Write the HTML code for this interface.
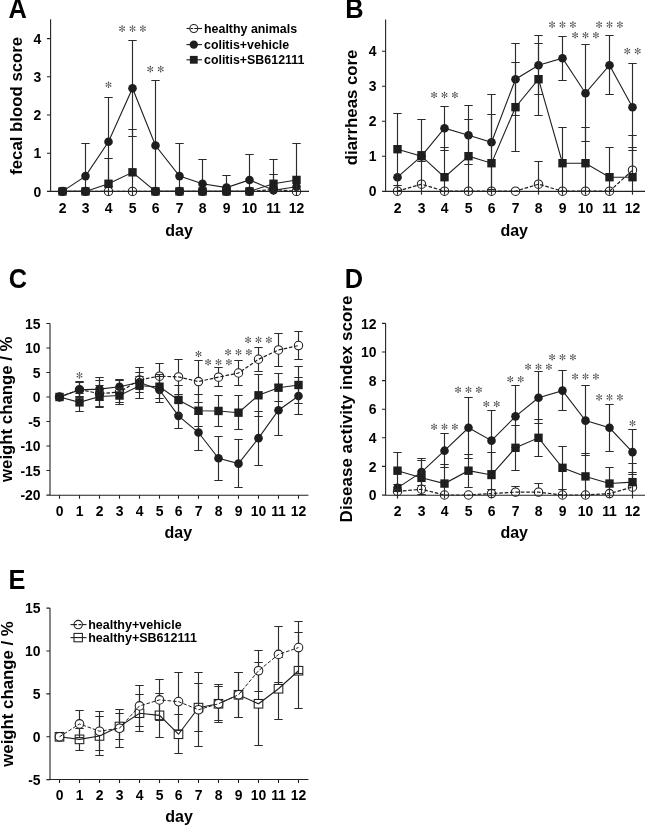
<!DOCTYPE html>
<html><head><meta charset="utf-8"><title>Figure</title>
<style>
html,body{margin:0;padding:0;background:#fff;}
body{width:645px;height:826px;overflow:hidden;}
svg{display:block;filter:blur(0.25px);}
text{font-family:"Liberation Sans", sans-serif;fill:#000;}
</style></head><body>
<svg width="645" height="826" viewBox="0 0 645 826">
<rect width="645" height="826" fill="#fff"/>
<text transform="translate(41.2 196.6) scale(0.93 1)" text-anchor="end" font-size="15" font-weight="bold">0</text>
<text transform="translate(41.2 158.4) scale(0.93 1)" text-anchor="end" font-size="15" font-weight="bold">1</text>
<text transform="translate(41.2 120.2) scale(0.93 1)" text-anchor="end" font-size="15" font-weight="bold">2</text>
<text transform="translate(41.2 82) scale(0.93 1)" text-anchor="end" font-size="15" font-weight="bold">3</text>
<text transform="translate(41.2 43.8) scale(0.93 1)" text-anchor="end" font-size="15" font-weight="bold">4</text>
<text transform="translate(62.5 212.7) scale(0.93 1)" text-anchor="middle" font-size="15" font-weight="bold">2</text>
<text transform="translate(85.5 212.7) scale(0.93 1)" text-anchor="middle" font-size="15" font-weight="bold">3</text>
<text transform="translate(108.5 212.7) scale(0.93 1)" text-anchor="middle" font-size="15" font-weight="bold">4</text>
<text transform="translate(132.5 212.7) scale(0.93 1)" text-anchor="middle" font-size="15" font-weight="bold">5</text>
<text transform="translate(155.5 212.7) scale(0.93 1)" text-anchor="middle" font-size="15" font-weight="bold">6</text>
<text transform="translate(179.5 212.7) scale(0.93 1)" text-anchor="middle" font-size="15" font-weight="bold">7</text>
<text transform="translate(202.5 212.7) scale(0.93 1)" text-anchor="middle" font-size="15" font-weight="bold">8</text>
<text transform="translate(226.5 212.7) scale(0.93 1)" text-anchor="middle" font-size="15" font-weight="bold">9</text>
<text transform="translate(249.5 212.7) scale(0.93 1)" text-anchor="middle" font-size="15" font-weight="bold">10</text>
<text transform="translate(273.5 212.7) scale(0.93 1)" text-anchor="middle" font-size="15" font-weight="bold">11</text>
<text transform="translate(296.5 212.7) scale(0.93 1)" text-anchor="middle" font-size="15" font-weight="bold">12</text>
<text x="179" y="235.5" text-anchor="middle" font-size="16" font-weight="bold">day</text>
<text transform="translate(21.8 105.8) rotate(-90)" text-anchor="middle" font-size="16.8" font-weight="bold">fecal blood score</text>
<text transform="translate(8.6 18.2) scale(0.94 1)" font-size="27" font-weight="bold">A</text>
<circle cx="62.5" cy="191.4" r="4.2" fill="#fff" stroke="#1e1e1e" stroke-width="1.05"/><circle cx="85.5" cy="191.4" r="4.2" fill="#fff" stroke="#1e1e1e" stroke-width="1.05"/><circle cx="108.5" cy="191.4" r="4.2" fill="#fff" stroke="#1e1e1e" stroke-width="1.05"/><circle cx="132.5" cy="191.4" r="4.2" fill="#fff" stroke="#1e1e1e" stroke-width="1.05"/><circle cx="155.5" cy="191.4" r="4.2" fill="#fff" stroke="#1e1e1e" stroke-width="1.05"/><circle cx="179.5" cy="191.4" r="4.2" fill="#fff" stroke="#1e1e1e" stroke-width="1.05"/><circle cx="202.5" cy="191.4" r="4.2" fill="#fff" stroke="#1e1e1e" stroke-width="1.05"/><circle cx="226.5" cy="191.4" r="4.2" fill="#fff" stroke="#1e1e1e" stroke-width="1.05"/><circle cx="249.5" cy="191.4" r="4.2" fill="#fff" stroke="#1e1e1e" stroke-width="1.05"/><circle cx="273.5" cy="189.49" r="4.2" fill="#fff" stroke="#1e1e1e" stroke-width="1.05"/><circle cx="296.5" cy="191.4" r="4.2" fill="#fff" stroke="#1e1e1e" stroke-width="1.05"/>
<polyline points="62.5,191.4 85.5,191.4 108.5,191.4 132.5,191.4 155.5,191.4 179.5,191.4 202.5,191.4 226.5,191.4 249.5,191.4 273.5,189.49 296.5,191.4" fill="none" stroke="#1e1e1e" stroke-width="1.2" stroke-dasharray="3.6 1.8"/>
<path d="M85.5 143.5V195M81.3 143.5H89.7M108.5 97.5V186.5M104.3 97.5H112.7M104.3 186.5H112.7M132.5 40.5V136.5M128.3 40.5H136.7M128.3 136.5H136.7M155.5 80.5V195M151.3 80.5H159.7M179.5 143.5V195M175.3 143.5H183.7M202.5 159.5V195M198.3 159.5H206.7M226.5 175.5V195M222.3 175.5H230.7M249.5 154.5V195M245.3 154.5H253.7M273.5 174.5V195M269.3 174.5H277.7" stroke="#2c2c2c" stroke-width="1.15" fill="none"/>
<polyline points="62.5,191.4 85.5,176.12 108.5,141.74 132.5,88.26 155.5,145.56 179.5,176.12 202.5,183.76 226.5,187.58 249.5,179.94 273.5,190.25 296.5,186.82" fill="none" stroke="#1e1e1e" stroke-width="1.1"/>
<circle cx="62.5" cy="191.4" r="4.3" fill="#1e1e1e"/><circle cx="85.5" cy="176.12" r="4.3" fill="#1e1e1e"/><circle cx="108.5" cy="141.74" r="4.3" fill="#1e1e1e"/><circle cx="132.5" cy="88.26" r="4.3" fill="#1e1e1e"/><circle cx="155.5" cy="145.56" r="4.3" fill="#1e1e1e"/><circle cx="179.5" cy="176.12" r="4.3" fill="#1e1e1e"/><circle cx="202.5" cy="183.76" r="4.3" fill="#1e1e1e"/><circle cx="226.5" cy="187.58" r="4.3" fill="#1e1e1e"/><circle cx="249.5" cy="179.94" r="4.3" fill="#1e1e1e"/><circle cx="273.5" cy="190.25" r="4.3" fill="#1e1e1e"/><circle cx="296.5" cy="186.82" r="4.3" fill="#1e1e1e"/>
<path d="M108.5 158.5V195M104.3 158.5H112.7M132.5 129.5V195M128.3 129.5H136.7M273.5 159.5V195M269.3 159.5H277.7M296.5 143.5V195M292.3 143.5H300.7" stroke="#2c2c2c" stroke-width="1.15" fill="none"/>
<polyline points="62.5,191.4 85.5,191.4 108.5,183.76 132.5,172.3 155.5,191.4 179.5,191.4 202.5,191.4 226.5,191.4 249.5,191.4 273.5,183.76 296.5,179.94" fill="none" stroke="#1e1e1e" stroke-width="1.1"/>
<rect x="58.3" y="187.2" width="8.4" height="8.4" fill="#1e1e1e"/><rect x="81.3" y="187.2" width="8.4" height="8.4" fill="#1e1e1e"/><rect x="104.3" y="179.56" width="8.4" height="8.4" fill="#1e1e1e"/><rect x="128.3" y="168.1" width="8.4" height="8.4" fill="#1e1e1e"/><rect x="151.3" y="187.2" width="8.4" height="8.4" fill="#1e1e1e"/><rect x="175.3" y="187.2" width="8.4" height="8.4" fill="#1e1e1e"/><rect x="198.3" y="187.2" width="8.4" height="8.4" fill="#1e1e1e"/><rect x="222.3" y="187.2" width="8.4" height="8.4" fill="#1e1e1e"/><rect x="245.3" y="187.2" width="8.4" height="8.4" fill="#1e1e1e"/><rect x="269.3" y="179.56" width="8.4" height="8.4" fill="#1e1e1e"/><rect x="292.3" y="175.74" width="8.4" height="8.4" fill="#1e1e1e"/>
<path d="M50.6 19.2V191.2" stroke="#222" stroke-width="1.1" fill="none"/>
<path d="M47 191.4H50.6M47 153.2H50.6M47 115H50.6M47 76.8H50.6M47 38.6H50.6M47 191.4H309" stroke="#222" stroke-width="1.1" fill="none"/>
<path d="M108.5 82.15L108.5 87.25M106.29 85.98L110.71 83.42M110.71 85.98L106.29 83.42" stroke="#7a7a7a" stroke-width="0.9" fill="none"/><circle cx="108.5" cy="82.15" r="0.75" fill="#444"/><circle cx="108.5" cy="87.25" r="0.75" fill="#444"/><circle cx="106.29" cy="85.98" r="0.75" fill="#444"/><circle cx="110.71" cy="83.42" r="0.75" fill="#444"/><circle cx="110.71" cy="85.98" r="0.75" fill="#444"/><circle cx="106.29" cy="83.42" r="0.75" fill="#444"/>
<path d="M122.1 26.05L122.1 31.15M119.89 29.88L124.31 27.33M124.31 29.88L119.89 27.32" stroke="#7a7a7a" stroke-width="0.9" fill="none"/><circle cx="122.1" cy="26.05" r="0.75" fill="#444"/><circle cx="122.1" cy="31.15" r="0.75" fill="#444"/><circle cx="119.89" cy="29.88" r="0.75" fill="#444"/><circle cx="124.31" cy="27.33" r="0.75" fill="#444"/><circle cx="124.31" cy="29.88" r="0.75" fill="#444"/><circle cx="119.89" cy="27.32" r="0.75" fill="#444"/><path d="M132.5 26.05L132.5 31.15M130.29 29.88L134.71 27.33M134.71 29.88L130.29 27.32" stroke="#7a7a7a" stroke-width="0.9" fill="none"/><circle cx="132.5" cy="26.05" r="0.75" fill="#444"/><circle cx="132.5" cy="31.15" r="0.75" fill="#444"/><circle cx="130.29" cy="29.88" r="0.75" fill="#444"/><circle cx="134.71" cy="27.33" r="0.75" fill="#444"/><circle cx="134.71" cy="29.88" r="0.75" fill="#444"/><circle cx="130.29" cy="27.32" r="0.75" fill="#444"/><path d="M142.9 26.05L142.9 31.15M140.69 29.88L145.11 27.33M145.11 29.88L140.69 27.32" stroke="#7a7a7a" stroke-width="0.9" fill="none"/><circle cx="142.9" cy="26.05" r="0.75" fill="#444"/><circle cx="142.9" cy="31.15" r="0.75" fill="#444"/><circle cx="140.69" cy="29.88" r="0.75" fill="#444"/><circle cx="145.11" cy="27.33" r="0.75" fill="#444"/><circle cx="145.11" cy="29.88" r="0.75" fill="#444"/><circle cx="140.69" cy="27.32" r="0.75" fill="#444"/>
<path d="M150.3 66.55L150.3 71.65M148.09 70.38L152.51 67.82M152.51 70.38L148.09 67.82" stroke="#7a7a7a" stroke-width="0.9" fill="none"/><circle cx="150.3" cy="66.55" r="0.75" fill="#444"/><circle cx="150.3" cy="71.65" r="0.75" fill="#444"/><circle cx="148.09" cy="70.38" r="0.75" fill="#444"/><circle cx="152.51" cy="67.82" r="0.75" fill="#444"/><circle cx="152.51" cy="70.38" r="0.75" fill="#444"/><circle cx="148.09" cy="67.82" r="0.75" fill="#444"/><path d="M160.7 66.55L160.7 71.65M158.49 70.38L162.91 67.82M162.91 70.38L158.49 67.82" stroke="#7a7a7a" stroke-width="0.9" fill="none"/><circle cx="160.7" cy="66.55" r="0.75" fill="#444"/><circle cx="160.7" cy="71.65" r="0.75" fill="#444"/><circle cx="158.49" cy="70.38" r="0.75" fill="#444"/><circle cx="162.91" cy="67.82" r="0.75" fill="#444"/><circle cx="162.91" cy="70.38" r="0.75" fill="#444"/><circle cx="158.49" cy="67.82" r="0.75" fill="#444"/>
<path d="M186.5 28.5H202" stroke="#1e1e1e" stroke-width="1.1"/>
<circle cx="193.8" cy="28.5" r="3.95" fill="#fff" stroke="#1e1e1e" stroke-width="1.05"/><path d="M190.6 28.5H197" stroke="#1e1e1e" stroke-width="1.0" stroke-dasharray="2.6 1.2"/>
<text transform="translate(204 33.1) scale(0.955 1)" font-size="13" font-weight="bold">healthy animals</text>
<path d="M186.5 44.6H202" stroke="#1e1e1e" stroke-width="1.1"/>
<circle cx="193.8" cy="44.6" r="4.2" fill="#1e1e1e"/>
<text transform="translate(204 49.2) scale(0.955 1)" font-size="13" font-weight="bold">colitis+vehicle</text>
<path d="M186.5 59.8H202" stroke="#1e1e1e" stroke-width="1.1"/>
<rect x="189.9" y="55.9" width="7.8" height="7.8" fill="#1e1e1e"/>
<text transform="translate(204 64.39999999999999) scale(0.955 1)" font-size="13" font-weight="bold">colitis+SB612111</text>
<text transform="translate(376.6 196.4) scale(0.93 1)" text-anchor="end" font-size="15" font-weight="bold">0</text>
<text transform="translate(376.6 161.4) scale(0.93 1)" text-anchor="end" font-size="15" font-weight="bold">1</text>
<text transform="translate(376.6 126.4) scale(0.93 1)" text-anchor="end" font-size="15" font-weight="bold">2</text>
<text transform="translate(376.6 91.4) scale(0.93 1)" text-anchor="end" font-size="15" font-weight="bold">3</text>
<text transform="translate(376.6 56.4) scale(0.93 1)" text-anchor="end" font-size="15" font-weight="bold">4</text>
<text transform="translate(397.5 212.7) scale(0.93 1)" text-anchor="middle" font-size="15" font-weight="bold">2</text>
<text transform="translate(421.5 212.7) scale(0.93 1)" text-anchor="middle" font-size="15" font-weight="bold">3</text>
<text transform="translate(444.5 212.7) scale(0.93 1)" text-anchor="middle" font-size="15" font-weight="bold">4</text>
<text transform="translate(468.5 212.7) scale(0.93 1)" text-anchor="middle" font-size="15" font-weight="bold">5</text>
<text transform="translate(491.5 212.7) scale(0.93 1)" text-anchor="middle" font-size="15" font-weight="bold">6</text>
<text transform="translate(515.5 212.7) scale(0.93 1)" text-anchor="middle" font-size="15" font-weight="bold">7</text>
<text transform="translate(538.5 212.7) scale(0.93 1)" text-anchor="middle" font-size="15" font-weight="bold">8</text>
<text transform="translate(562.5 212.7) scale(0.93 1)" text-anchor="middle" font-size="15" font-weight="bold">9</text>
<text transform="translate(585.5 212.7) scale(0.93 1)" text-anchor="middle" font-size="15" font-weight="bold">10</text>
<text transform="translate(609.5 212.7) scale(0.93 1)" text-anchor="middle" font-size="15" font-weight="bold">11</text>
<text transform="translate(632.5 212.7) scale(0.93 1)" text-anchor="middle" font-size="15" font-weight="bold">12</text>
<text x="514.2" y="235.5" text-anchor="middle" font-size="16" font-weight="bold">day</text>
<text transform="translate(357.1 107.4) rotate(-90)" text-anchor="middle" font-size="16.8" font-weight="bold">diarrheas core</text>
<text transform="translate(345.3 17.5) scale(0.94 1)" font-size="27" font-weight="bold">B</text>
<path d="M538.5 161.5V184.2M534.3 161.5H542.7M632.5 135.5V170.2M628.3 135.5H636.7" stroke="#2c2c2c" stroke-width="1.15" fill="none"/>
<circle cx="397.5" cy="191.2" r="4.2" fill="#fff" stroke="#1e1e1e" stroke-width="1.05"/><circle cx="421.5" cy="184.2" r="4.2" fill="#fff" stroke="#1e1e1e" stroke-width="1.05"/><circle cx="444.5" cy="191.2" r="4.2" fill="#fff" stroke="#1e1e1e" stroke-width="1.05"/><circle cx="468.5" cy="191.2" r="4.2" fill="#fff" stroke="#1e1e1e" stroke-width="1.05"/><circle cx="491.5" cy="191.2" r="4.2" fill="#fff" stroke="#1e1e1e" stroke-width="1.05"/><circle cx="515.5" cy="191.2" r="4.2" fill="#fff" stroke="#1e1e1e" stroke-width="1.05"/><circle cx="538.5" cy="184.2" r="4.2" fill="#fff" stroke="#1e1e1e" stroke-width="1.05"/><circle cx="562.5" cy="191.2" r="4.2" fill="#fff" stroke="#1e1e1e" stroke-width="1.05"/><circle cx="585.5" cy="191.2" r="4.2" fill="#fff" stroke="#1e1e1e" stroke-width="1.05"/><circle cx="609.5" cy="191.2" r="4.2" fill="#fff" stroke="#1e1e1e" stroke-width="1.05"/><circle cx="632.5" cy="170.2" r="4.2" fill="#fff" stroke="#1e1e1e" stroke-width="1.05"/>
<polyline points="397.5,191.2 421.5,184.2 444.5,191.2 468.5,191.2 491.5,191.2 515.5,191.2 538.5,184.2 562.5,191.2 585.5,191.2 609.5,191.2 632.5,170.2" fill="none" stroke="#1e1e1e" stroke-width="1.2" stroke-dasharray="3.6 1.8"/>
<path d="M421.5 151.5V161.5M417.3 151.5H425.7M417.3 161.5H425.7M444.5 106.5V150.5M440.3 106.5H448.7M440.3 150.5H448.7M468.5 105.5V164.5M464.3 105.5H472.7M464.3 164.5H472.7M491.5 94.5V189.5M487.3 94.5H495.7M487.3 189.5H495.7M515.5 43.5V115.5M511.3 43.5H519.7M511.3 115.5H519.7M538.5 35.5V94.5M534.3 35.5H542.7M534.3 94.5H542.7M562.5 36.5V80.5M558.3 36.5H566.7M558.3 80.5H566.7M585.5 44.5V141.5M581.3 44.5H589.7M581.3 141.5H589.7M609.5 35.5V94.5M605.3 35.5H613.7M605.3 94.5H613.7M632.5 63.5V150.5M628.3 63.5H636.7M628.3 150.5H636.7" stroke="#2c2c2c" stroke-width="1.15" fill="none"/>
<polyline points="397.5,177.2 421.5,156.2 444.5,128.2 468.5,135.2 491.5,142.2 515.5,79.2 538.5,65.2 562.5,58.2 585.5,93.2 609.5,65.2 632.5,107.2" fill="none" stroke="#1e1e1e" stroke-width="1.1"/>
<circle cx="397.5" cy="177.2" r="4.3" fill="#1e1e1e"/><circle cx="421.5" cy="156.2" r="4.3" fill="#1e1e1e"/><circle cx="444.5" cy="128.2" r="4.3" fill="#1e1e1e"/><circle cx="468.5" cy="135.2" r="4.3" fill="#1e1e1e"/><circle cx="491.5" cy="142.2" r="4.3" fill="#1e1e1e"/><circle cx="515.5" cy="79.2" r="4.3" fill="#1e1e1e"/><circle cx="538.5" cy="65.2" r="4.3" fill="#1e1e1e"/><circle cx="562.5" cy="58.2" r="4.3" fill="#1e1e1e"/><circle cx="585.5" cy="93.2" r="4.3" fill="#1e1e1e"/><circle cx="609.5" cy="65.2" r="4.3" fill="#1e1e1e"/><circle cx="632.5" cy="107.2" r="4.3" fill="#1e1e1e"/>
<path d="M397.5 113.5V185.5M393.3 113.5H401.7M393.3 185.5H401.7M421.5 119.5V194.8M417.3 119.5H425.7M444.5 147.5V194.8M440.3 147.5H448.7M468.5 119.5V194.8M464.3 119.5H472.7M491.5 114.5V194.8M487.3 114.5H495.7M515.5 62.5V151.5M511.3 62.5H519.7M511.3 151.5H519.7M538.5 43.5V115.5M534.3 43.5H542.7M534.3 115.5H542.7M562.5 127.5V194.8M558.3 127.5H566.7M585.5 127.5V194.8M581.3 127.5H589.7M609.5 147.5V194.8M605.3 147.5H613.7M632.5 147.5V194.8M628.3 147.5H636.7" stroke="#2c2c2c" stroke-width="1.15" fill="none"/>
<polyline points="397.5,149.2 421.5,156.2 444.5,177.2 468.5,156.2 491.5,163.2 515.5,107.2 538.5,79.2 562.5,163.2 585.5,163.2 609.5,177.2 632.5,177.2" fill="none" stroke="#1e1e1e" stroke-width="1.1"/>
<rect x="393.3" y="145" width="8.4" height="8.4" fill="#1e1e1e"/><rect x="417.3" y="152" width="8.4" height="8.4" fill="#1e1e1e"/><rect x="440.3" y="173" width="8.4" height="8.4" fill="#1e1e1e"/><rect x="464.3" y="152" width="8.4" height="8.4" fill="#1e1e1e"/><rect x="487.3" y="159" width="8.4" height="8.4" fill="#1e1e1e"/><rect x="511.3" y="103" width="8.4" height="8.4" fill="#1e1e1e"/><rect x="534.3" y="75" width="8.4" height="8.4" fill="#1e1e1e"/><rect x="558.3" y="159" width="8.4" height="8.4" fill="#1e1e1e"/><rect x="581.3" y="159" width="8.4" height="8.4" fill="#1e1e1e"/><rect x="605.3" y="173" width="8.4" height="8.4" fill="#1e1e1e"/><rect x="628.3" y="173" width="8.4" height="8.4" fill="#1e1e1e"/>
<path d="M397.5 184.2V194.7" stroke="#2c2c2c" stroke-width="1.15"/>
<path d="M538.5 180.7V194.7" stroke="#2c2c2c" stroke-width="1.15"/>
<path d="M385.6 19.4V191.2" stroke="#222" stroke-width="1.1" fill="none"/>
<path d="M382 191.2H385.6M382 156.2H385.6M382 121.2H385.6M382 86.2H385.6M382 51.2H385.6M382.4 191.4H645" stroke="#222" stroke-width="1.1" fill="none"/>
<path d="M434.1 92.45L434.1 97.55M431.89 96.28L436.31 93.72M436.31 96.28L431.89 93.72" stroke="#7a7a7a" stroke-width="0.9" fill="none"/><circle cx="434.1" cy="92.45" r="0.75" fill="#444"/><circle cx="434.1" cy="97.55" r="0.75" fill="#444"/><circle cx="431.89" cy="96.28" r="0.75" fill="#444"/><circle cx="436.31" cy="93.72" r="0.75" fill="#444"/><circle cx="436.31" cy="96.28" r="0.75" fill="#444"/><circle cx="431.89" cy="93.72" r="0.75" fill="#444"/><path d="M444.5 92.45L444.5 97.55M442.29 96.28L446.71 93.72M446.71 96.28L442.29 93.72" stroke="#7a7a7a" stroke-width="0.9" fill="none"/><circle cx="444.5" cy="92.45" r="0.75" fill="#444"/><circle cx="444.5" cy="97.55" r="0.75" fill="#444"/><circle cx="442.29" cy="96.28" r="0.75" fill="#444"/><circle cx="446.71" cy="93.72" r="0.75" fill="#444"/><circle cx="446.71" cy="96.28" r="0.75" fill="#444"/><circle cx="442.29" cy="93.72" r="0.75" fill="#444"/><path d="M454.9 92.45L454.9 97.55M452.69 96.28L457.11 93.72M457.11 96.28L452.69 93.72" stroke="#7a7a7a" stroke-width="0.9" fill="none"/><circle cx="454.9" cy="92.45" r="0.75" fill="#444"/><circle cx="454.9" cy="97.55" r="0.75" fill="#444"/><circle cx="452.69" cy="96.28" r="0.75" fill="#444"/><circle cx="457.11" cy="93.72" r="0.75" fill="#444"/><circle cx="457.11" cy="96.28" r="0.75" fill="#444"/><circle cx="452.69" cy="93.72" r="0.75" fill="#444"/>
<path d="M552.1 22.05L552.1 27.15M549.89 25.88L554.31 23.33M554.31 25.88L549.89 23.32" stroke="#7a7a7a" stroke-width="0.9" fill="none"/><circle cx="552.1" cy="22.05" r="0.75" fill="#444"/><circle cx="552.1" cy="27.15" r="0.75" fill="#444"/><circle cx="549.89" cy="25.88" r="0.75" fill="#444"/><circle cx="554.31" cy="23.33" r="0.75" fill="#444"/><circle cx="554.31" cy="25.88" r="0.75" fill="#444"/><circle cx="549.89" cy="23.32" r="0.75" fill="#444"/><path d="M562.5 22.05L562.5 27.15M560.29 25.88L564.71 23.33M564.71 25.88L560.29 23.32" stroke="#7a7a7a" stroke-width="0.9" fill="none"/><circle cx="562.5" cy="22.05" r="0.75" fill="#444"/><circle cx="562.5" cy="27.15" r="0.75" fill="#444"/><circle cx="560.29" cy="25.88" r="0.75" fill="#444"/><circle cx="564.71" cy="23.33" r="0.75" fill="#444"/><circle cx="564.71" cy="25.88" r="0.75" fill="#444"/><circle cx="560.29" cy="23.32" r="0.75" fill="#444"/><path d="M572.9 22.05L572.9 27.15M570.69 25.88L575.11 23.33M575.11 25.88L570.69 23.32" stroke="#7a7a7a" stroke-width="0.9" fill="none"/><circle cx="572.9" cy="22.05" r="0.75" fill="#444"/><circle cx="572.9" cy="27.15" r="0.75" fill="#444"/><circle cx="570.69" cy="25.88" r="0.75" fill="#444"/><circle cx="575.11" cy="23.33" r="0.75" fill="#444"/><circle cx="575.11" cy="25.88" r="0.75" fill="#444"/><circle cx="570.69" cy="23.32" r="0.75" fill="#444"/>
<path d="M575.1 32.65L575.1 37.75M572.89 36.48L577.31 33.93M577.31 36.48L572.89 33.93" stroke="#7a7a7a" stroke-width="0.9" fill="none"/><circle cx="575.1" cy="32.65" r="0.75" fill="#444"/><circle cx="575.1" cy="37.75" r="0.75" fill="#444"/><circle cx="572.89" cy="36.48" r="0.75" fill="#444"/><circle cx="577.31" cy="33.93" r="0.75" fill="#444"/><circle cx="577.31" cy="36.48" r="0.75" fill="#444"/><circle cx="572.89" cy="33.93" r="0.75" fill="#444"/><path d="M585.5 32.65L585.5 37.75M583.29 36.48L587.71 33.93M587.71 36.48L583.29 33.93" stroke="#7a7a7a" stroke-width="0.9" fill="none"/><circle cx="585.5" cy="32.65" r="0.75" fill="#444"/><circle cx="585.5" cy="37.75" r="0.75" fill="#444"/><circle cx="583.29" cy="36.48" r="0.75" fill="#444"/><circle cx="587.71" cy="33.93" r="0.75" fill="#444"/><circle cx="587.71" cy="36.48" r="0.75" fill="#444"/><circle cx="583.29" cy="33.93" r="0.75" fill="#444"/><path d="M595.9 32.65L595.9 37.75M593.69 36.48L598.11 33.93M598.11 36.48L593.69 33.93" stroke="#7a7a7a" stroke-width="0.9" fill="none"/><circle cx="595.9" cy="32.65" r="0.75" fill="#444"/><circle cx="595.9" cy="37.75" r="0.75" fill="#444"/><circle cx="593.69" cy="36.48" r="0.75" fill="#444"/><circle cx="598.11" cy="33.93" r="0.75" fill="#444"/><circle cx="598.11" cy="36.48" r="0.75" fill="#444"/><circle cx="593.69" cy="33.93" r="0.75" fill="#444"/>
<path d="M599.1 22.05L599.1 27.15M596.89 25.88L601.31 23.33M601.31 25.88L596.89 23.32" stroke="#7a7a7a" stroke-width="0.9" fill="none"/><circle cx="599.1" cy="22.05" r="0.75" fill="#444"/><circle cx="599.1" cy="27.15" r="0.75" fill="#444"/><circle cx="596.89" cy="25.88" r="0.75" fill="#444"/><circle cx="601.31" cy="23.33" r="0.75" fill="#444"/><circle cx="601.31" cy="25.88" r="0.75" fill="#444"/><circle cx="596.89" cy="23.32" r="0.75" fill="#444"/><path d="M609.5 22.05L609.5 27.15M607.29 25.88L611.71 23.33M611.71 25.88L607.29 23.32" stroke="#7a7a7a" stroke-width="0.9" fill="none"/><circle cx="609.5" cy="22.05" r="0.75" fill="#444"/><circle cx="609.5" cy="27.15" r="0.75" fill="#444"/><circle cx="607.29" cy="25.88" r="0.75" fill="#444"/><circle cx="611.71" cy="23.33" r="0.75" fill="#444"/><circle cx="611.71" cy="25.88" r="0.75" fill="#444"/><circle cx="607.29" cy="23.32" r="0.75" fill="#444"/><path d="M619.9 22.05L619.9 27.15M617.69 25.88L622.11 23.33M622.11 25.88L617.69 23.32" stroke="#7a7a7a" stroke-width="0.9" fill="none"/><circle cx="619.9" cy="22.05" r="0.75" fill="#444"/><circle cx="619.9" cy="27.15" r="0.75" fill="#444"/><circle cx="617.69" cy="25.88" r="0.75" fill="#444"/><circle cx="622.11" cy="23.33" r="0.75" fill="#444"/><circle cx="622.11" cy="25.88" r="0.75" fill="#444"/><circle cx="617.69" cy="23.32" r="0.75" fill="#444"/>
<path d="M627.3 48.55L627.3 53.65M625.09 52.38L629.51 49.83M629.51 52.38L625.09 49.83" stroke="#7a7a7a" stroke-width="0.9" fill="none"/><circle cx="627.3" cy="48.55" r="0.75" fill="#444"/><circle cx="627.3" cy="53.65" r="0.75" fill="#444"/><circle cx="625.09" cy="52.38" r="0.75" fill="#444"/><circle cx="629.51" cy="49.83" r="0.75" fill="#444"/><circle cx="629.51" cy="52.38" r="0.75" fill="#444"/><circle cx="625.09" cy="49.83" r="0.75" fill="#444"/><path d="M637.7 48.55L637.7 53.65M635.49 52.38L639.91 49.83M639.91 52.38L635.49 49.83" stroke="#7a7a7a" stroke-width="0.9" fill="none"/><circle cx="637.7" cy="48.55" r="0.75" fill="#444"/><circle cx="637.7" cy="53.65" r="0.75" fill="#444"/><circle cx="635.49" cy="52.38" r="0.75" fill="#444"/><circle cx="639.91" cy="49.83" r="0.75" fill="#444"/><circle cx="639.91" cy="52.38" r="0.75" fill="#444"/><circle cx="635.49" cy="49.83" r="0.75" fill="#444"/>
<text transform="translate(40.6 328.7) scale(0.93 1)" text-anchor="end" font-size="15" font-weight="bold">15</text>
<text transform="translate(40.6 353.2) scale(0.93 1)" text-anchor="end" font-size="15" font-weight="bold">10</text>
<text transform="translate(40.6 377.7) scale(0.93 1)" text-anchor="end" font-size="15" font-weight="bold">5</text>
<text transform="translate(40.6 402.2) scale(0.93 1)" text-anchor="end" font-size="15" font-weight="bold">0</text>
<text transform="translate(40.6 426.7) scale(0.93 1)" text-anchor="end" font-size="15" font-weight="bold">-5</text>
<text transform="translate(40.6 451.2) scale(0.93 1)" text-anchor="end" font-size="15" font-weight="bold">-10</text>
<text transform="translate(40.6 475.7) scale(0.93 1)" text-anchor="end" font-size="15" font-weight="bold">-15</text>
<text transform="translate(40.6 500.2) scale(0.93 1)" text-anchor="end" font-size="15" font-weight="bold">-20</text>
<text transform="translate(59.5 515.5) scale(0.93 1)" text-anchor="middle" font-size="15" font-weight="bold">0</text>
<text transform="translate(79.5 515.5) scale(0.93 1)" text-anchor="middle" font-size="15" font-weight="bold">1</text>
<text transform="translate(99.5 515.5) scale(0.93 1)" text-anchor="middle" font-size="15" font-weight="bold">2</text>
<text transform="translate(119.5 515.5) scale(0.93 1)" text-anchor="middle" font-size="15" font-weight="bold">3</text>
<text transform="translate(139.5 515.5) scale(0.93 1)" text-anchor="middle" font-size="15" font-weight="bold">4</text>
<text transform="translate(159.5 515.5) scale(0.93 1)" text-anchor="middle" font-size="15" font-weight="bold">5</text>
<text transform="translate(178.5 515.5) scale(0.93 1)" text-anchor="middle" font-size="15" font-weight="bold">6</text>
<text transform="translate(198.5 515.5) scale(0.93 1)" text-anchor="middle" font-size="15" font-weight="bold">7</text>
<text transform="translate(218.5 515.5) scale(0.93 1)" text-anchor="middle" font-size="15" font-weight="bold">8</text>
<text transform="translate(238.5 515.5) scale(0.93 1)" text-anchor="middle" font-size="15" font-weight="bold">9</text>
<text transform="translate(258.5 515.5) scale(0.93 1)" text-anchor="middle" font-size="15" font-weight="bold">10</text>
<text transform="translate(278.5 515.5) scale(0.93 1)" text-anchor="middle" font-size="15" font-weight="bold">11</text>
<text transform="translate(298.5 515.5) scale(0.93 1)" text-anchor="middle" font-size="15" font-weight="bold">12</text>
<text x="178.3" y="537.5" text-anchor="middle" font-size="16" font-weight="bold">day</text>
<text transform="translate(12.3 409.2) rotate(-90)" text-anchor="middle" font-size="16.8" font-weight="bold">weight change / %</text>
<text transform="translate(8.8 287.5) scale(0.94 1)" font-size="27" font-weight="bold">C</text>
<path d="M79.5 382.5V396.5M75.3 382.5H83.7M75.3 396.5H83.7M99.5 380.5V406.5M95.3 380.5H103.7M95.3 406.5H103.7M119.5 379.5V404.5M115.3 379.5H123.7M115.3 404.5H123.7M139.5 367.5V392.5M135.3 367.5H143.7M135.3 392.5H143.7M159.5 363.5V388.5M155.3 363.5H163.7M155.3 388.5H163.7M178.5 359.5V394.5M174.3 359.5H182.7M174.3 394.5H182.7M198.5 360.5V402.5M194.3 360.5H202.7M194.3 402.5H202.7M218.5 367.5V386.5M214.3 367.5H222.7M214.3 386.5H222.7M238.5 360.5V385.5M234.3 360.5H242.7M234.3 385.5H242.7M258.5 347.5V371.5M254.3 347.5H262.7M254.3 371.5H262.7M278.5 333.5V366.5M274.3 333.5H282.7M274.3 366.5H282.7M298.5 331.5V359.5M294.3 331.5H302.7M294.3 359.5H302.7" stroke="#2c2c2c" stroke-width="1.15" fill="none"/>
<circle cx="59.5" cy="397" r="4.2" fill="#fff" stroke="#1e1e1e" stroke-width="1.05"/><circle cx="79.5" cy="389.65" r="4.2" fill="#fff" stroke="#1e1e1e" stroke-width="1.05"/><circle cx="99.5" cy="393.57" r="4.2" fill="#fff" stroke="#1e1e1e" stroke-width="1.05"/><circle cx="119.5" cy="392.1" r="4.2" fill="#fff" stroke="#1e1e1e" stroke-width="1.05"/><circle cx="139.5" cy="379.85" r="4.2" fill="#fff" stroke="#1e1e1e" stroke-width="1.05"/><circle cx="159.5" cy="376.18" r="4.2" fill="#fff" stroke="#1e1e1e" stroke-width="1.05"/><circle cx="178.5" cy="376.91" r="4.2" fill="#fff" stroke="#1e1e1e" stroke-width="1.05"/><circle cx="198.5" cy="381.56" r="4.2" fill="#fff" stroke="#1e1e1e" stroke-width="1.05"/><circle cx="218.5" cy="377.15" r="4.2" fill="#fff" stroke="#1e1e1e" stroke-width="1.05"/><circle cx="238.5" cy="372.99" r="4.2" fill="#fff" stroke="#1e1e1e" stroke-width="1.05"/><circle cx="258.5" cy="359.27" r="4.2" fill="#fff" stroke="#1e1e1e" stroke-width="1.05"/><circle cx="278.5" cy="349.96" r="4.2" fill="#fff" stroke="#1e1e1e" stroke-width="1.05"/><circle cx="298.5" cy="345.55" r="4.2" fill="#fff" stroke="#1e1e1e" stroke-width="1.05"/>
<polyline points="59.5,397 79.5,389.65 99.5,393.57 119.5,392.1 139.5,379.85 159.5,376.18 178.5,376.91 198.5,381.56 218.5,377.15 238.5,372.99 258.5,359.27 278.5,349.96 298.5,345.55" fill="none" stroke="#1e1e1e" stroke-width="1.2" stroke-dasharray="3.6 1.8"/>
<path d="M79.5 381.5V397.5M75.3 381.5H83.7M75.3 397.5H83.7M99.5 377.5V400.5M95.3 377.5H103.7M95.3 400.5H103.7M119.5 380.5V393.5M115.3 380.5H123.7M115.3 393.5H123.7M139.5 376.5V387.5M135.3 376.5H143.7M135.3 387.5H143.7M159.5 376.5V402.5M155.3 376.5H163.7M155.3 402.5H163.7M178.5 402.5V428.5M174.3 402.5H182.7M174.3 428.5H182.7M198.5 414.5V450.5M194.3 414.5H202.7M194.3 450.5H202.7M218.5 436.5V480.5M214.3 436.5H222.7M214.3 480.5H222.7M238.5 439.5V487.5M234.3 439.5H242.7M234.3 487.5H242.7M258.5 411.5V465.5M254.3 411.5H262.7M254.3 465.5H262.7M278.5 384.5V435.5M274.3 384.5H282.7M274.3 435.5H282.7M298.5 377.5V414.5M294.3 377.5H302.7M294.3 414.5H302.7" stroke="#2c2c2c" stroke-width="1.15" fill="none"/>
<polyline points="59.5,397 79.5,389.89 99.5,389.16 119.5,386.71 139.5,382.3 159.5,389.89 178.5,415.87 198.5,432.52 218.5,458.25 238.5,463.64 258.5,438.16 278.5,410.23 298.5,396.02" fill="none" stroke="#1e1e1e" stroke-width="1.1"/>
<circle cx="59.5" cy="397" r="4.3" fill="#1e1e1e"/><circle cx="79.5" cy="389.89" r="4.3" fill="#1e1e1e"/><circle cx="99.5" cy="389.16" r="4.3" fill="#1e1e1e"/><circle cx="119.5" cy="386.71" r="4.3" fill="#1e1e1e"/><circle cx="139.5" cy="382.3" r="4.3" fill="#1e1e1e"/><circle cx="159.5" cy="389.89" r="4.3" fill="#1e1e1e"/><circle cx="178.5" cy="415.87" r="4.3" fill="#1e1e1e"/><circle cx="198.5" cy="432.52" r="4.3" fill="#1e1e1e"/><circle cx="218.5" cy="458.25" r="4.3" fill="#1e1e1e"/><circle cx="238.5" cy="463.64" r="4.3" fill="#1e1e1e"/><circle cx="258.5" cy="438.16" r="4.3" fill="#1e1e1e"/><circle cx="278.5" cy="410.23" r="4.3" fill="#1e1e1e"/><circle cx="298.5" cy="396.02" r="4.3" fill="#1e1e1e"/>
<path d="M79.5 393.5V411.5M75.3 393.5H83.7M75.3 411.5H83.7M99.5 385.5V407.5M95.3 385.5H103.7M95.3 407.5H103.7M119.5 388.5V402.5M115.3 388.5H123.7M115.3 402.5H123.7M139.5 372.5V398.5M135.3 372.5H143.7M135.3 398.5H143.7M159.5 374.5V398.5M155.3 374.5H163.7M155.3 398.5H163.7M178.5 385.5V414.5M174.3 385.5H182.7M174.3 414.5H182.7M198.5 394.5V426.5M194.3 394.5H202.7M194.3 426.5H202.7M218.5 395.5V426.5M214.3 395.5H222.7M214.3 426.5H222.7M238.5 395.5V429.5M234.3 395.5H242.7M234.3 429.5H242.7M258.5 374.5V416.5M254.3 374.5H262.7M254.3 416.5H262.7M278.5 373.5V401.5M274.3 373.5H282.7M274.3 401.5H282.7M298.5 366.5V403.5M294.3 366.5H302.7M294.3 403.5H302.7" stroke="#2c2c2c" stroke-width="1.15" fill="none"/>
<polyline points="59.5,397 79.5,402.39 99.5,396.51 119.5,395.53 139.5,385.73 159.5,386.71 178.5,399.94 198.5,410.72 218.5,410.96 238.5,412.68 258.5,395.29 278.5,387.69 298.5,385" fill="none" stroke="#1e1e1e" stroke-width="1.1"/>
<rect x="55.3" y="392.8" width="8.4" height="8.4" fill="#1e1e1e"/><rect x="75.3" y="398.19" width="8.4" height="8.4" fill="#1e1e1e"/><rect x="95.3" y="392.31" width="8.4" height="8.4" fill="#1e1e1e"/><rect x="115.3" y="391.33" width="8.4" height="8.4" fill="#1e1e1e"/><rect x="135.3" y="381.53" width="8.4" height="8.4" fill="#1e1e1e"/><rect x="155.3" y="382.51" width="8.4" height="8.4" fill="#1e1e1e"/><rect x="174.3" y="395.74" width="8.4" height="8.4" fill="#1e1e1e"/><rect x="194.3" y="406.52" width="8.4" height="8.4" fill="#1e1e1e"/><rect x="214.3" y="406.76" width="8.4" height="8.4" fill="#1e1e1e"/><rect x="234.3" y="408.48" width="8.4" height="8.4" fill="#1e1e1e"/><rect x="254.3" y="391.09" width="8.4" height="8.4" fill="#1e1e1e"/><rect x="274.3" y="383.49" width="8.4" height="8.4" fill="#1e1e1e"/><rect x="294.3" y="380.8" width="8.4" height="8.4" fill="#1e1e1e"/>
<path d="M50 323.5V495" stroke="#222" stroke-width="1.1" fill="none"/>
<path d="M46.4 323.5H50M46.4 348H50M46.4 372.5H50M46.4 397H50M46.4 421.5H50M46.4 446H50M46.4 470.5H50M46.4 495H50M46.4 495.3H308.4M59.5 495.3V498.8M79.5 495.3V498.8M99.5 495.3V498.8M119.5 495.3V498.8M139.5 495.3V498.8M159.5 495.3V498.8M178.5 495.3V498.8M198.5 495.3V498.8M218.5 495.3V498.8M238.5 495.3V498.8M258.5 495.3V498.8M278.5 495.3V498.8M298.5 495.3V498.8" stroke="#222" stroke-width="1.1" fill="none"/>
<path d="M79.5 372.85L79.5 377.95M77.29 376.67L81.71 374.12M81.71 376.67L77.29 374.12" stroke="#7a7a7a" stroke-width="0.9" fill="none"/><circle cx="79.5" cy="372.85" r="0.75" fill="#444"/><circle cx="79.5" cy="377.95" r="0.75" fill="#444"/><circle cx="77.29" cy="376.67" r="0.75" fill="#444"/><circle cx="81.71" cy="374.12" r="0.75" fill="#444"/><circle cx="81.71" cy="376.67" r="0.75" fill="#444"/><circle cx="77.29" cy="374.12" r="0.75" fill="#444"/>
<path d="M198.5 351.45L198.5 356.55M196.29 355.27L200.71 352.73M200.71 355.27L196.29 352.73" stroke="#7a7a7a" stroke-width="0.9" fill="none"/><circle cx="198.5" cy="351.45" r="0.75" fill="#444"/><circle cx="198.5" cy="356.55" r="0.75" fill="#444"/><circle cx="196.29" cy="355.27" r="0.75" fill="#444"/><circle cx="200.71" cy="352.73" r="0.75" fill="#444"/><circle cx="200.71" cy="355.27" r="0.75" fill="#444"/><circle cx="196.29" cy="352.73" r="0.75" fill="#444"/>
<path d="M208.1 359.65L208.1 364.75M205.89 363.47L210.31 360.93M210.31 363.47L205.89 360.93" stroke="#7a7a7a" stroke-width="0.9" fill="none"/><circle cx="208.1" cy="359.65" r="0.75" fill="#444"/><circle cx="208.1" cy="364.75" r="0.75" fill="#444"/><circle cx="205.89" cy="363.47" r="0.75" fill="#444"/><circle cx="210.31" cy="360.93" r="0.75" fill="#444"/><circle cx="210.31" cy="363.47" r="0.75" fill="#444"/><circle cx="205.89" cy="360.93" r="0.75" fill="#444"/><path d="M218.5 359.65L218.5 364.75M216.29 363.47L220.71 360.93M220.71 363.47L216.29 360.93" stroke="#7a7a7a" stroke-width="0.9" fill="none"/><circle cx="218.5" cy="359.65" r="0.75" fill="#444"/><circle cx="218.5" cy="364.75" r="0.75" fill="#444"/><circle cx="216.29" cy="363.47" r="0.75" fill="#444"/><circle cx="220.71" cy="360.93" r="0.75" fill="#444"/><circle cx="220.71" cy="363.47" r="0.75" fill="#444"/><circle cx="216.29" cy="360.93" r="0.75" fill="#444"/><path d="M228.9 359.65L228.9 364.75M226.69 363.47L231.11 360.93M231.11 363.47L226.69 360.93" stroke="#7a7a7a" stroke-width="0.9" fill="none"/><circle cx="228.9" cy="359.65" r="0.75" fill="#444"/><circle cx="228.9" cy="364.75" r="0.75" fill="#444"/><circle cx="226.69" cy="363.47" r="0.75" fill="#444"/><circle cx="231.11" cy="360.93" r="0.75" fill="#444"/><circle cx="231.11" cy="363.47" r="0.75" fill="#444"/><circle cx="226.69" cy="360.93" r="0.75" fill="#444"/>
<path d="M228.1 349.75L228.1 354.85M225.89 353.57L230.31 351.03M230.31 353.57L225.89 351.03" stroke="#7a7a7a" stroke-width="0.9" fill="none"/><circle cx="228.1" cy="349.75" r="0.75" fill="#444"/><circle cx="228.1" cy="354.85" r="0.75" fill="#444"/><circle cx="225.89" cy="353.57" r="0.75" fill="#444"/><circle cx="230.31" cy="351.03" r="0.75" fill="#444"/><circle cx="230.31" cy="353.57" r="0.75" fill="#444"/><circle cx="225.89" cy="351.03" r="0.75" fill="#444"/><path d="M238.5 349.75L238.5 354.85M236.29 353.57L240.71 351.03M240.71 353.57L236.29 351.03" stroke="#7a7a7a" stroke-width="0.9" fill="none"/><circle cx="238.5" cy="349.75" r="0.75" fill="#444"/><circle cx="238.5" cy="354.85" r="0.75" fill="#444"/><circle cx="236.29" cy="353.57" r="0.75" fill="#444"/><circle cx="240.71" cy="351.03" r="0.75" fill="#444"/><circle cx="240.71" cy="353.57" r="0.75" fill="#444"/><circle cx="236.29" cy="351.03" r="0.75" fill="#444"/><path d="M248.9 349.75L248.9 354.85M246.69 353.57L251.11 351.03M251.11 353.57L246.69 351.03" stroke="#7a7a7a" stroke-width="0.9" fill="none"/><circle cx="248.9" cy="349.75" r="0.75" fill="#444"/><circle cx="248.9" cy="354.85" r="0.75" fill="#444"/><circle cx="246.69" cy="353.57" r="0.75" fill="#444"/><circle cx="251.11" cy="351.03" r="0.75" fill="#444"/><circle cx="251.11" cy="353.57" r="0.75" fill="#444"/><circle cx="246.69" cy="351.03" r="0.75" fill="#444"/>
<path d="M248.1 337.35L248.1 342.45M245.89 341.17L250.31 338.62M250.31 341.17L245.89 338.62" stroke="#7a7a7a" stroke-width="0.9" fill="none"/><circle cx="248.1" cy="337.35" r="0.75" fill="#444"/><circle cx="248.1" cy="342.45" r="0.75" fill="#444"/><circle cx="245.89" cy="341.17" r="0.75" fill="#444"/><circle cx="250.31" cy="338.62" r="0.75" fill="#444"/><circle cx="250.31" cy="341.17" r="0.75" fill="#444"/><circle cx="245.89" cy="338.62" r="0.75" fill="#444"/><path d="M258.5 337.35L258.5 342.45M256.29 341.17L260.71 338.62M260.71 341.17L256.29 338.62" stroke="#7a7a7a" stroke-width="0.9" fill="none"/><circle cx="258.5" cy="337.35" r="0.75" fill="#444"/><circle cx="258.5" cy="342.45" r="0.75" fill="#444"/><circle cx="256.29" cy="341.17" r="0.75" fill="#444"/><circle cx="260.71" cy="338.62" r="0.75" fill="#444"/><circle cx="260.71" cy="341.17" r="0.75" fill="#444"/><circle cx="256.29" cy="338.62" r="0.75" fill="#444"/><path d="M268.9 337.35L268.9 342.45M266.69 341.17L271.11 338.62M271.11 341.17L266.69 338.62" stroke="#7a7a7a" stroke-width="0.9" fill="none"/><circle cx="268.9" cy="337.35" r="0.75" fill="#444"/><circle cx="268.9" cy="342.45" r="0.75" fill="#444"/><circle cx="266.69" cy="341.17" r="0.75" fill="#444"/><circle cx="271.11" cy="338.62" r="0.75" fill="#444"/><circle cx="271.11" cy="341.17" r="0.75" fill="#444"/><circle cx="266.69" cy="338.62" r="0.75" fill="#444"/>
<text transform="translate(376.6 500.2) scale(0.93 1)" text-anchor="end" font-size="15" font-weight="bold">0</text>
<text transform="translate(376.6 471.6) scale(0.93 1)" text-anchor="end" font-size="15" font-weight="bold">2</text>
<text transform="translate(376.6 443) scale(0.93 1)" text-anchor="end" font-size="15" font-weight="bold">4</text>
<text transform="translate(376.6 414.4) scale(0.93 1)" text-anchor="end" font-size="15" font-weight="bold">6</text>
<text transform="translate(376.6 385.8) scale(0.93 1)" text-anchor="end" font-size="15" font-weight="bold">8</text>
<text transform="translate(376.6 357.2) scale(0.93 1)" text-anchor="end" font-size="15" font-weight="bold">10</text>
<text transform="translate(376.6 328.6) scale(0.93 1)" text-anchor="end" font-size="15" font-weight="bold">12</text>
<text transform="translate(397.5 515.5) scale(0.93 1)" text-anchor="middle" font-size="15" font-weight="bold">2</text>
<text transform="translate(421.5 515.5) scale(0.93 1)" text-anchor="middle" font-size="15" font-weight="bold">3</text>
<text transform="translate(444.5 515.5) scale(0.93 1)" text-anchor="middle" font-size="15" font-weight="bold">4</text>
<text transform="translate(468.5 515.5) scale(0.93 1)" text-anchor="middle" font-size="15" font-weight="bold">5</text>
<text transform="translate(491.5 515.5) scale(0.93 1)" text-anchor="middle" font-size="15" font-weight="bold">6</text>
<text transform="translate(515.5 515.5) scale(0.93 1)" text-anchor="middle" font-size="15" font-weight="bold">7</text>
<text transform="translate(538.5 515.5) scale(0.93 1)" text-anchor="middle" font-size="15" font-weight="bold">8</text>
<text transform="translate(562.5 515.5) scale(0.93 1)" text-anchor="middle" font-size="15" font-weight="bold">9</text>
<text transform="translate(585.5 515.5) scale(0.93 1)" text-anchor="middle" font-size="15" font-weight="bold">10</text>
<text transform="translate(609.5 515.5) scale(0.93 1)" text-anchor="middle" font-size="15" font-weight="bold">11</text>
<text transform="translate(632.5 515.5) scale(0.93 1)" text-anchor="middle" font-size="15" font-weight="bold">12</text>
<text x="514.2" y="537.5" text-anchor="middle" font-size="16" font-weight="bold">day</text>
<text transform="translate(352.4 409) rotate(-90)" text-anchor="middle" font-size="17.0" font-weight="bold">Disease activity index score</text>
<text transform="translate(344.8 287.5) scale(0.94 1)" font-size="27" font-weight="bold">D</text>
<path d="M491.5 489.5V493.57M487.3 489.5H495.7M515.5 486.5V492.14M511.3 486.5H519.7M538.5 483.5V492.14M534.3 483.5H542.7M632.5 472.5V487.13M628.3 472.5H636.7" stroke="#2c2c2c" stroke-width="1.15" fill="none"/>
<circle cx="397.5" cy="491.43" r="4.2" fill="#fff" stroke="#1e1e1e" stroke-width="1.05"/><circle cx="421.5" cy="489.28" r="4.2" fill="#fff" stroke="#1e1e1e" stroke-width="1.05"/><circle cx="444.5" cy="495" r="4.2" fill="#fff" stroke="#1e1e1e" stroke-width="1.05"/><circle cx="468.5" cy="495" r="4.2" fill="#fff" stroke="#1e1e1e" stroke-width="1.05"/><circle cx="491.5" cy="493.57" r="4.2" fill="#fff" stroke="#1e1e1e" stroke-width="1.05"/><circle cx="515.5" cy="492.14" r="4.2" fill="#fff" stroke="#1e1e1e" stroke-width="1.05"/><circle cx="538.5" cy="492.14" r="4.2" fill="#fff" stroke="#1e1e1e" stroke-width="1.05"/><circle cx="562.5" cy="495" r="4.2" fill="#fff" stroke="#1e1e1e" stroke-width="1.05"/><circle cx="585.5" cy="495" r="4.2" fill="#fff" stroke="#1e1e1e" stroke-width="1.05"/><circle cx="609.5" cy="493.57" r="4.2" fill="#fff" stroke="#1e1e1e" stroke-width="1.05"/><circle cx="632.5" cy="487.13" r="4.2" fill="#fff" stroke="#1e1e1e" stroke-width="1.05"/>
<polyline points="397.5,491.43 421.5,489.28 444.5,495 468.5,495 491.5,493.57 515.5,492.14 538.5,492.14 562.5,495 585.5,495 609.5,493.57 632.5,487.13" fill="none" stroke="#1e1e1e" stroke-width="1.2" stroke-dasharray="3.6 1.8"/>
<path d="M397.5 484.5V491.5M393.3 484.5H401.7M393.3 491.5H401.7M421.5 458.5V485.5M417.3 458.5H425.7M417.3 485.5H425.7M444.5 433.5V467.5M440.3 433.5H448.7M440.3 467.5H448.7M468.5 397.5V458.5M464.3 397.5H472.7M464.3 458.5H472.7M491.5 410.5V470.5M487.3 410.5H495.7M487.3 470.5H495.7M515.5 385.5V447.5M511.3 385.5H519.7M511.3 447.5H519.7M538.5 371.5V423.5M534.3 371.5H542.7M534.3 423.5H542.7M562.5 370.5V410.5M558.3 370.5H566.7M558.3 410.5H566.7M585.5 385.5V455.5M581.3 385.5H589.7M581.3 455.5H589.7M609.5 404.5V451.5M605.3 404.5H613.7M605.3 451.5H613.7M632.5 429.5V474.5M628.3 429.5H636.7M628.3 474.5H636.7" stroke="#2c2c2c" stroke-width="1.15" fill="none"/>
<polyline points="397.5,487.85 421.5,472.12 444.5,450.67 468.5,427.79 491.5,440.66 515.5,416.35 538.5,397.76 562.5,390.61 585.5,420.64 609.5,427.79 632.5,452.1" fill="none" stroke="#1e1e1e" stroke-width="1.1"/>
<circle cx="397.5" cy="487.85" r="4.3" fill="#1e1e1e"/><circle cx="421.5" cy="472.12" r="4.3" fill="#1e1e1e"/><circle cx="444.5" cy="450.67" r="4.3" fill="#1e1e1e"/><circle cx="468.5" cy="427.79" r="4.3" fill="#1e1e1e"/><circle cx="491.5" cy="440.66" r="4.3" fill="#1e1e1e"/><circle cx="515.5" cy="416.35" r="4.3" fill="#1e1e1e"/><circle cx="538.5" cy="397.76" r="4.3" fill="#1e1e1e"/><circle cx="562.5" cy="390.61" r="4.3" fill="#1e1e1e"/><circle cx="585.5" cy="420.64" r="4.3" fill="#1e1e1e"/><circle cx="609.5" cy="427.79" r="4.3" fill="#1e1e1e"/><circle cx="632.5" cy="452.1" r="4.3" fill="#1e1e1e"/>
<path d="M397.5 452.5V489.5M393.3 452.5H401.7M393.3 489.5H401.7M421.5 460.5V494.5M417.3 460.5H425.7M417.3 494.5H425.7M444.5 464.5V498.6M440.3 464.5H448.7M468.5 454.5V487.5M464.3 454.5H472.7M464.3 487.5H472.7M491.5 452.5V498.6M487.3 452.5H495.7M515.5 425.5V470.5M511.3 425.5H519.7M511.3 470.5H519.7M538.5 419.5V456.5M534.3 419.5H542.7M534.3 456.5H542.7M562.5 446.5V489.5M558.3 446.5H566.7M558.3 489.5H566.7M585.5 453.5V498.6M581.3 453.5H589.7M609.5 467.5V498.6M605.3 467.5H613.7M632.5 463.5V498.6M628.3 463.5H636.7" stroke="#2c2c2c" stroke-width="1.15" fill="none"/>
<polyline points="397.5,470.69 421.5,477.84 444.5,483.56 468.5,470.69 491.5,474.98 515.5,447.81 538.5,437.8 562.5,467.83 585.5,476.41 609.5,483.56 632.5,482.13" fill="none" stroke="#1e1e1e" stroke-width="1.1"/>
<rect x="393.3" y="466.49" width="8.4" height="8.4" fill="#1e1e1e"/><rect x="417.3" y="473.64" width="8.4" height="8.4" fill="#1e1e1e"/><rect x="440.3" y="479.36" width="8.4" height="8.4" fill="#1e1e1e"/><rect x="464.3" y="466.49" width="8.4" height="8.4" fill="#1e1e1e"/><rect x="487.3" y="470.78" width="8.4" height="8.4" fill="#1e1e1e"/><rect x="511.3" y="443.61" width="8.4" height="8.4" fill="#1e1e1e"/><rect x="534.3" y="433.6" width="8.4" height="8.4" fill="#1e1e1e"/><rect x="558.3" y="463.63" width="8.4" height="8.4" fill="#1e1e1e"/><rect x="581.3" y="472.21" width="8.4" height="8.4" fill="#1e1e1e"/><rect x="605.3" y="479.36" width="8.4" height="8.4" fill="#1e1e1e"/><rect x="628.3" y="477.93" width="8.4" height="8.4" fill="#1e1e1e"/>
<path d="M562.5 489.28V498.57" stroke="#2c2c2c" stroke-width="1.15"/>
<path d="M397.5 487.85V498.57" stroke="#2c2c2c" stroke-width="1.15"/>
<path d="M385.6 323.3V495" stroke="#222" stroke-width="1.1" fill="none"/>
<path d="M382 495H385.6M382 466.4H385.6M382 437.8H385.6M382 409.2H385.6M382 380.6H385.6M382 352H385.6M382 323.4H385.6M382.4 495.3H645" stroke="#222" stroke-width="1.1" fill="none"/>
<path d="M434.1 424.25L434.1 429.35M431.89 428.07L436.31 425.53M436.31 428.07L431.89 425.53" stroke="#7a7a7a" stroke-width="0.9" fill="none"/><circle cx="434.1" cy="424.25" r="0.75" fill="#444"/><circle cx="434.1" cy="429.35" r="0.75" fill="#444"/><circle cx="431.89" cy="428.07" r="0.75" fill="#444"/><circle cx="436.31" cy="425.53" r="0.75" fill="#444"/><circle cx="436.31" cy="428.07" r="0.75" fill="#444"/><circle cx="431.89" cy="425.53" r="0.75" fill="#444"/><path d="M444.5 424.25L444.5 429.35M442.29 428.07L446.71 425.53M446.71 428.07L442.29 425.53" stroke="#7a7a7a" stroke-width="0.9" fill="none"/><circle cx="444.5" cy="424.25" r="0.75" fill="#444"/><circle cx="444.5" cy="429.35" r="0.75" fill="#444"/><circle cx="442.29" cy="428.07" r="0.75" fill="#444"/><circle cx="446.71" cy="425.53" r="0.75" fill="#444"/><circle cx="446.71" cy="428.07" r="0.75" fill="#444"/><circle cx="442.29" cy="425.53" r="0.75" fill="#444"/><path d="M454.9 424.25L454.9 429.35M452.69 428.07L457.11 425.53M457.11 428.07L452.69 425.53" stroke="#7a7a7a" stroke-width="0.9" fill="none"/><circle cx="454.9" cy="424.25" r="0.75" fill="#444"/><circle cx="454.9" cy="429.35" r="0.75" fill="#444"/><circle cx="452.69" cy="428.07" r="0.75" fill="#444"/><circle cx="457.11" cy="425.53" r="0.75" fill="#444"/><circle cx="457.11" cy="428.07" r="0.75" fill="#444"/><circle cx="452.69" cy="425.53" r="0.75" fill="#444"/>
<path d="M458.1 387.15L458.1 392.25M455.89 390.97L460.31 388.43M460.31 390.97L455.89 388.43" stroke="#7a7a7a" stroke-width="0.9" fill="none"/><circle cx="458.1" cy="387.15" r="0.75" fill="#444"/><circle cx="458.1" cy="392.25" r="0.75" fill="#444"/><circle cx="455.89" cy="390.97" r="0.75" fill="#444"/><circle cx="460.31" cy="388.43" r="0.75" fill="#444"/><circle cx="460.31" cy="390.97" r="0.75" fill="#444"/><circle cx="455.89" cy="388.43" r="0.75" fill="#444"/><path d="M468.5 387.15L468.5 392.25M466.29 390.97L470.71 388.43M470.71 390.97L466.29 388.43" stroke="#7a7a7a" stroke-width="0.9" fill="none"/><circle cx="468.5" cy="387.15" r="0.75" fill="#444"/><circle cx="468.5" cy="392.25" r="0.75" fill="#444"/><circle cx="466.29" cy="390.97" r="0.75" fill="#444"/><circle cx="470.71" cy="388.43" r="0.75" fill="#444"/><circle cx="470.71" cy="390.97" r="0.75" fill="#444"/><circle cx="466.29" cy="388.43" r="0.75" fill="#444"/><path d="M478.9 387.15L478.9 392.25M476.69 390.97L481.11 388.43M481.11 390.97L476.69 388.43" stroke="#7a7a7a" stroke-width="0.9" fill="none"/><circle cx="478.9" cy="387.15" r="0.75" fill="#444"/><circle cx="478.9" cy="392.25" r="0.75" fill="#444"/><circle cx="476.69" cy="390.97" r="0.75" fill="#444"/><circle cx="481.11" cy="388.43" r="0.75" fill="#444"/><circle cx="481.11" cy="390.97" r="0.75" fill="#444"/><circle cx="476.69" cy="388.43" r="0.75" fill="#444"/>
<path d="M486.3 401.45L486.3 406.55M484.09 405.27L488.51 402.73M488.51 405.27L484.09 402.73" stroke="#7a7a7a" stroke-width="0.9" fill="none"/><circle cx="486.3" cy="401.45" r="0.75" fill="#444"/><circle cx="486.3" cy="406.55" r="0.75" fill="#444"/><circle cx="484.09" cy="405.27" r="0.75" fill="#444"/><circle cx="488.51" cy="402.73" r="0.75" fill="#444"/><circle cx="488.51" cy="405.27" r="0.75" fill="#444"/><circle cx="484.09" cy="402.73" r="0.75" fill="#444"/><path d="M496.7 401.45L496.7 406.55M494.49 405.27L498.91 402.73M498.91 405.27L494.49 402.73" stroke="#7a7a7a" stroke-width="0.9" fill="none"/><circle cx="496.7" cy="401.45" r="0.75" fill="#444"/><circle cx="496.7" cy="406.55" r="0.75" fill="#444"/><circle cx="494.49" cy="405.27" r="0.75" fill="#444"/><circle cx="498.91" cy="402.73" r="0.75" fill="#444"/><circle cx="498.91" cy="405.27" r="0.75" fill="#444"/><circle cx="494.49" cy="402.73" r="0.75" fill="#444"/>
<path d="M510.3 376.75L510.3 381.85M508.09 380.57L512.51 378.03M512.51 380.57L508.09 378.03" stroke="#7a7a7a" stroke-width="0.9" fill="none"/><circle cx="510.3" cy="376.75" r="0.75" fill="#444"/><circle cx="510.3" cy="381.85" r="0.75" fill="#444"/><circle cx="508.09" cy="380.57" r="0.75" fill="#444"/><circle cx="512.51" cy="378.03" r="0.75" fill="#444"/><circle cx="512.51" cy="380.57" r="0.75" fill="#444"/><circle cx="508.09" cy="378.03" r="0.75" fill="#444"/><path d="M520.7 376.75L520.7 381.85M518.49 380.57L522.91 378.03M522.91 380.57L518.49 378.03" stroke="#7a7a7a" stroke-width="0.9" fill="none"/><circle cx="520.7" cy="376.75" r="0.75" fill="#444"/><circle cx="520.7" cy="381.85" r="0.75" fill="#444"/><circle cx="518.49" cy="380.57" r="0.75" fill="#444"/><circle cx="522.91" cy="378.03" r="0.75" fill="#444"/><circle cx="522.91" cy="380.57" r="0.75" fill="#444"/><circle cx="518.49" cy="378.03" r="0.75" fill="#444"/>
<path d="M528.1 364.15L528.1 369.25M525.89 367.97L530.31 365.43M530.31 367.97L525.89 365.43" stroke="#7a7a7a" stroke-width="0.9" fill="none"/><circle cx="528.1" cy="364.15" r="0.75" fill="#444"/><circle cx="528.1" cy="369.25" r="0.75" fill="#444"/><circle cx="525.89" cy="367.97" r="0.75" fill="#444"/><circle cx="530.31" cy="365.43" r="0.75" fill="#444"/><circle cx="530.31" cy="367.97" r="0.75" fill="#444"/><circle cx="525.89" cy="365.43" r="0.75" fill="#444"/><path d="M538.5 364.15L538.5 369.25M536.29 367.97L540.71 365.43M540.71 367.97L536.29 365.43" stroke="#7a7a7a" stroke-width="0.9" fill="none"/><circle cx="538.5" cy="364.15" r="0.75" fill="#444"/><circle cx="538.5" cy="369.25" r="0.75" fill="#444"/><circle cx="536.29" cy="367.97" r="0.75" fill="#444"/><circle cx="540.71" cy="365.43" r="0.75" fill="#444"/><circle cx="540.71" cy="367.97" r="0.75" fill="#444"/><circle cx="536.29" cy="365.43" r="0.75" fill="#444"/><path d="M548.9 364.15L548.9 369.25M546.69 367.97L551.11 365.43M551.11 367.97L546.69 365.43" stroke="#7a7a7a" stroke-width="0.9" fill="none"/><circle cx="548.9" cy="364.15" r="0.75" fill="#444"/><circle cx="548.9" cy="369.25" r="0.75" fill="#444"/><circle cx="546.69" cy="367.97" r="0.75" fill="#444"/><circle cx="551.11" cy="365.43" r="0.75" fill="#444"/><circle cx="551.11" cy="367.97" r="0.75" fill="#444"/><circle cx="546.69" cy="365.43" r="0.75" fill="#444"/>
<path d="M552.1 354.75L552.1 359.85M549.89 358.57L554.31 356.03M554.31 358.57L549.89 356.03" stroke="#7a7a7a" stroke-width="0.9" fill="none"/><circle cx="552.1" cy="354.75" r="0.75" fill="#444"/><circle cx="552.1" cy="359.85" r="0.75" fill="#444"/><circle cx="549.89" cy="358.57" r="0.75" fill="#444"/><circle cx="554.31" cy="356.03" r="0.75" fill="#444"/><circle cx="554.31" cy="358.57" r="0.75" fill="#444"/><circle cx="549.89" cy="356.03" r="0.75" fill="#444"/><path d="M562.5 354.75L562.5 359.85M560.29 358.57L564.71 356.03M564.71 358.57L560.29 356.03" stroke="#7a7a7a" stroke-width="0.9" fill="none"/><circle cx="562.5" cy="354.75" r="0.75" fill="#444"/><circle cx="562.5" cy="359.85" r="0.75" fill="#444"/><circle cx="560.29" cy="358.57" r="0.75" fill="#444"/><circle cx="564.71" cy="356.03" r="0.75" fill="#444"/><circle cx="564.71" cy="358.57" r="0.75" fill="#444"/><circle cx="560.29" cy="356.03" r="0.75" fill="#444"/><path d="M572.9 354.75L572.9 359.85M570.69 358.57L575.11 356.03M575.11 358.57L570.69 356.03" stroke="#7a7a7a" stroke-width="0.9" fill="none"/><circle cx="572.9" cy="354.75" r="0.75" fill="#444"/><circle cx="572.9" cy="359.85" r="0.75" fill="#444"/><circle cx="570.69" cy="358.57" r="0.75" fill="#444"/><circle cx="575.11" cy="356.03" r="0.75" fill="#444"/><circle cx="575.11" cy="358.57" r="0.75" fill="#444"/><circle cx="570.69" cy="356.03" r="0.75" fill="#444"/>
<path d="M575.1 373.95L575.1 379.05M572.89 377.77L577.31 375.23M577.31 377.77L572.89 375.23" stroke="#7a7a7a" stroke-width="0.9" fill="none"/><circle cx="575.1" cy="373.95" r="0.75" fill="#444"/><circle cx="575.1" cy="379.05" r="0.75" fill="#444"/><circle cx="572.89" cy="377.77" r="0.75" fill="#444"/><circle cx="577.31" cy="375.23" r="0.75" fill="#444"/><circle cx="577.31" cy="377.77" r="0.75" fill="#444"/><circle cx="572.89" cy="375.23" r="0.75" fill="#444"/><path d="M585.5 373.95L585.5 379.05M583.29 377.77L587.71 375.23M587.71 377.77L583.29 375.23" stroke="#7a7a7a" stroke-width="0.9" fill="none"/><circle cx="585.5" cy="373.95" r="0.75" fill="#444"/><circle cx="585.5" cy="379.05" r="0.75" fill="#444"/><circle cx="583.29" cy="377.77" r="0.75" fill="#444"/><circle cx="587.71" cy="375.23" r="0.75" fill="#444"/><circle cx="587.71" cy="377.77" r="0.75" fill="#444"/><circle cx="583.29" cy="375.23" r="0.75" fill="#444"/><path d="M595.9 373.95L595.9 379.05M593.69 377.77L598.11 375.23M598.11 377.77L593.69 375.23" stroke="#7a7a7a" stroke-width="0.9" fill="none"/><circle cx="595.9" cy="373.95" r="0.75" fill="#444"/><circle cx="595.9" cy="379.05" r="0.75" fill="#444"/><circle cx="593.69" cy="377.77" r="0.75" fill="#444"/><circle cx="598.11" cy="375.23" r="0.75" fill="#444"/><circle cx="598.11" cy="377.77" r="0.75" fill="#444"/><circle cx="593.69" cy="375.23" r="0.75" fill="#444"/>
<path d="M599.1 394.85L599.1 399.95M596.89 398.67L601.31 396.12M601.31 398.67L596.89 396.12" stroke="#7a7a7a" stroke-width="0.9" fill="none"/><circle cx="599.1" cy="394.85" r="0.75" fill="#444"/><circle cx="599.1" cy="399.95" r="0.75" fill="#444"/><circle cx="596.89" cy="398.67" r="0.75" fill="#444"/><circle cx="601.31" cy="396.12" r="0.75" fill="#444"/><circle cx="601.31" cy="398.67" r="0.75" fill="#444"/><circle cx="596.89" cy="396.12" r="0.75" fill="#444"/><path d="M609.5 394.85L609.5 399.95M607.29 398.67L611.71 396.12M611.71 398.67L607.29 396.12" stroke="#7a7a7a" stroke-width="0.9" fill="none"/><circle cx="609.5" cy="394.85" r="0.75" fill="#444"/><circle cx="609.5" cy="399.95" r="0.75" fill="#444"/><circle cx="607.29" cy="398.67" r="0.75" fill="#444"/><circle cx="611.71" cy="396.12" r="0.75" fill="#444"/><circle cx="611.71" cy="398.67" r="0.75" fill="#444"/><circle cx="607.29" cy="396.12" r="0.75" fill="#444"/><path d="M619.9 394.85L619.9 399.95M617.69 398.67L622.11 396.12M622.11 398.67L617.69 396.12" stroke="#7a7a7a" stroke-width="0.9" fill="none"/><circle cx="619.9" cy="394.85" r="0.75" fill="#444"/><circle cx="619.9" cy="399.95" r="0.75" fill="#444"/><circle cx="617.69" cy="398.67" r="0.75" fill="#444"/><circle cx="622.11" cy="396.12" r="0.75" fill="#444"/><circle cx="622.11" cy="398.67" r="0.75" fill="#444"/><circle cx="617.69" cy="396.12" r="0.75" fill="#444"/>
<path d="M632.5 420.65L632.5 425.75M630.29 424.47L634.71 421.93M634.71 424.47L630.29 421.93" stroke="#7a7a7a" stroke-width="0.9" fill="none"/><circle cx="632.5" cy="420.65" r="0.75" fill="#444"/><circle cx="632.5" cy="425.75" r="0.75" fill="#444"/><circle cx="630.29" cy="424.47" r="0.75" fill="#444"/><circle cx="634.71" cy="421.93" r="0.75" fill="#444"/><circle cx="634.71" cy="424.47" r="0.75" fill="#444"/><circle cx="630.29" cy="421.93" r="0.75" fill="#444"/>
<text transform="translate(40.6 613.3) scale(0.93 1)" text-anchor="end" font-size="15" font-weight="bold">15</text>
<text transform="translate(40.6 656.2) scale(0.93 1)" text-anchor="end" font-size="15" font-weight="bold">10</text>
<text transform="translate(40.6 699.1) scale(0.93 1)" text-anchor="end" font-size="15" font-weight="bold">5</text>
<text transform="translate(40.6 742) scale(0.93 1)" text-anchor="end" font-size="15" font-weight="bold">0</text>
<text transform="translate(40.6 784.9) scale(0.93 1)" text-anchor="end" font-size="15" font-weight="bold">-5</text>
<text transform="translate(59.5 799.8) scale(0.93 1)" text-anchor="middle" font-size="15" font-weight="bold">0</text>
<text transform="translate(79.5 799.8) scale(0.93 1)" text-anchor="middle" font-size="15" font-weight="bold">1</text>
<text transform="translate(99.5 799.8) scale(0.93 1)" text-anchor="middle" font-size="15" font-weight="bold">2</text>
<text transform="translate(119.5 799.8) scale(0.93 1)" text-anchor="middle" font-size="15" font-weight="bold">3</text>
<text transform="translate(139.5 799.8) scale(0.93 1)" text-anchor="middle" font-size="15" font-weight="bold">4</text>
<text transform="translate(159.5 799.8) scale(0.93 1)" text-anchor="middle" font-size="15" font-weight="bold">5</text>
<text transform="translate(178.5 799.8) scale(0.93 1)" text-anchor="middle" font-size="15" font-weight="bold">6</text>
<text transform="translate(198.5 799.8) scale(0.93 1)" text-anchor="middle" font-size="15" font-weight="bold">7</text>
<text transform="translate(218.5 799.8) scale(0.93 1)" text-anchor="middle" font-size="15" font-weight="bold">8</text>
<text transform="translate(238.5 799.8) scale(0.93 1)" text-anchor="middle" font-size="15" font-weight="bold">9</text>
<text transform="translate(258.5 799.8) scale(0.93 1)" text-anchor="middle" font-size="15" font-weight="bold">10</text>
<text transform="translate(278.5 799.8) scale(0.93 1)" text-anchor="middle" font-size="15" font-weight="bold">11</text>
<text transform="translate(298.5 799.8) scale(0.93 1)" text-anchor="middle" font-size="15" font-weight="bold">12</text>
<text x="179" y="822.2" text-anchor="middle" font-size="16" font-weight="bold">day</text>
<text transform="translate(12.5 694) rotate(-90)" text-anchor="middle" font-size="16.8" font-weight="bold">weight change / %</text>
<text transform="translate(8.6 589.3) scale(0.94 1)" font-size="27" font-weight="bold">E</text>
<path d="M79.5 728.5V750.5M75.3 728.5H83.7M75.3 750.5H83.7M99.5 716.5V755.5M95.3 716.5H103.7M95.3 755.5H103.7M119.5 713.5V739.5M115.3 713.5H123.7M115.3 739.5H123.7M139.5 694.5V731.5M135.3 694.5H143.7M135.3 731.5H143.7M159.5 693.5V737.5M155.3 693.5H163.7M155.3 737.5H163.7M178.5 714.5V753.5M174.3 714.5H182.7M174.3 753.5H182.7M198.5 683.5V731.5M194.3 683.5H202.7M194.3 731.5H202.7M218.5 686.5V720.5M214.3 686.5H222.7M214.3 720.5H222.7M238.5 672.5V717.5M234.3 672.5H242.7M234.3 717.5H242.7M258.5 662.5V745.5M254.3 662.5H262.7M254.3 745.5H262.7M278.5 657.5V719.5M274.3 657.5H282.7M274.3 719.5H282.7M298.5 632.5V708.5M294.3 632.5H302.7M294.3 708.5H302.7" stroke="#2c2c2c" stroke-width="1.15" fill="none"/>
<rect x="55.2" y="732.5" width="8.6" height="8.6" fill="#fff" stroke="#1e1e1e" stroke-width="1.05"/><rect x="75.2" y="735.07" width="8.6" height="8.6" fill="#fff" stroke="#1e1e1e" stroke-width="1.05"/><rect x="95.2" y="731.64" width="8.6" height="8.6" fill="#fff" stroke="#1e1e1e" stroke-width="1.05"/><rect x="115.2" y="722.2" width="8.6" height="8.6" fill="#fff" stroke="#1e1e1e" stroke-width="1.05"/><rect x="135.2" y="708.9" width="8.6" height="8.6" fill="#fff" stroke="#1e1e1e" stroke-width="1.05"/><rect x="155.2" y="711.05" width="8.6" height="8.6" fill="#fff" stroke="#1e1e1e" stroke-width="1.05"/><rect x="174.2" y="729.93" width="8.6" height="8.6" fill="#fff" stroke="#1e1e1e" stroke-width="1.05"/><rect x="194.2" y="703.33" width="8.6" height="8.6" fill="#fff" stroke="#1e1e1e" stroke-width="1.05"/><rect x="214.2" y="699.47" width="8.6" height="8.6" fill="#fff" stroke="#1e1e1e" stroke-width="1.05"/><rect x="234.2" y="690.46" width="8.6" height="8.6" fill="#fff" stroke="#1e1e1e" stroke-width="1.05"/><rect x="254.2" y="699.47" width="8.6" height="8.6" fill="#fff" stroke="#1e1e1e" stroke-width="1.05"/><rect x="274.2" y="684.45" width="8.6" height="8.6" fill="#fff" stroke="#1e1e1e" stroke-width="1.05"/><rect x="294.2" y="666.43" width="8.6" height="8.6" fill="#fff" stroke="#1e1e1e" stroke-width="1.05"/>
<polyline points="59.5,736.8 79.5,739.37 99.5,735.94 119.5,726.5 139.5,713.2 159.5,715.35 178.5,734.23 198.5,707.63 218.5,703.77 238.5,694.76 258.5,703.77 278.5,688.75 298.5,670.73" fill="none" stroke="#1e1e1e" stroke-width="1.1"/>
<path d="M79.5 710.5V737.5M75.3 710.5H83.7M75.3 737.5H83.7M99.5 711.5V750.5M95.3 711.5H103.7M95.3 750.5H103.7M119.5 709.5V747.5M115.3 709.5H123.7M115.3 747.5H123.7M139.5 685.5V726.5M135.3 685.5H143.7M135.3 726.5H143.7M159.5 679.5V720.5M155.3 679.5H163.7M155.3 720.5H163.7M178.5 672.5V730.5M174.3 672.5H182.7M174.3 730.5H182.7M198.5 672.5V746.5M194.3 672.5H202.7M194.3 746.5H202.7M218.5 684.5V722.5M214.3 684.5H222.7M214.3 722.5H222.7M238.5 672.5V717.5M234.3 672.5H242.7M234.3 717.5H242.7M258.5 650.5V691.5M254.3 650.5H262.7M254.3 691.5H262.7M278.5 626.5V682.5M274.3 626.5H282.7M274.3 682.5H282.7M298.5 621.5V673.5M294.3 621.5H302.7M294.3 673.5H302.7" stroke="#2c2c2c" stroke-width="1.15" fill="none"/>
<circle cx="59.5" cy="736.8" r="4.3" fill="#fff" stroke="#1e1e1e" stroke-width="1.05"/><circle cx="79.5" cy="723.93" r="4.3" fill="#fff" stroke="#1e1e1e" stroke-width="1.05"/><circle cx="99.5" cy="731.22" r="4.3" fill="#fff" stroke="#1e1e1e" stroke-width="1.05"/><circle cx="119.5" cy="728.22" r="4.3" fill="#fff" stroke="#1e1e1e" stroke-width="1.05"/><circle cx="139.5" cy="705.91" r="4.3" fill="#fff" stroke="#1e1e1e" stroke-width="1.05"/><circle cx="159.5" cy="699.91" r="4.3" fill="#fff" stroke="#1e1e1e" stroke-width="1.05"/><circle cx="178.5" cy="701.62" r="4.3" fill="#fff" stroke="#1e1e1e" stroke-width="1.05"/><circle cx="198.5" cy="709.77" r="4.3" fill="#fff" stroke="#1e1e1e" stroke-width="1.05"/><circle cx="218.5" cy="703.77" r="4.3" fill="#fff" stroke="#1e1e1e" stroke-width="1.05"/><circle cx="238.5" cy="694.76" r="4.3" fill="#fff" stroke="#1e1e1e" stroke-width="1.05"/><circle cx="258.5" cy="670.73" r="4.3" fill="#fff" stroke="#1e1e1e" stroke-width="1.05"/><circle cx="278.5" cy="654.43" r="4.3" fill="#fff" stroke="#1e1e1e" stroke-width="1.05"/><circle cx="298.5" cy="647.57" r="4.3" fill="#fff" stroke="#1e1e1e" stroke-width="1.05"/>
<polyline points="59.5,736.8 79.5,723.93 99.5,731.22 119.5,728.22 139.5,705.91 159.5,699.91 178.5,701.62 198.5,709.77 218.5,703.77 238.5,694.76 258.5,670.73 278.5,654.43 298.5,647.57" fill="none" stroke="#1e1e1e" stroke-width="1.0" stroke-dasharray="3.6 1.8"/>
<path d="M50 608V779.5" stroke="#222" stroke-width="1.1" fill="none"/>
<path d="M46.4 608.1H50M46.4 651H50M46.4 693.9H50M46.4 736.8H50M46.4 779.7H50M46.4 779.5H308.4M59.5 779.5V783M79.5 779.5V783M99.5 779.5V783M119.5 779.5V783M139.5 779.5V783M159.5 779.5V783M178.5 779.5V783M198.5 779.5V783M218.5 779.5V783M238.5 779.5V783M258.5 779.5V783M278.5 779.5V783M298.5 779.5V783" stroke="#222" stroke-width="1.1" fill="none"/>
<path d="M70.5 624.6H86.5" stroke="#1e1e1e" stroke-width="1.1"/>
<circle cx="78.2" cy="624.6" r="4.2" fill="#fff" stroke="#1e1e1e" stroke-width="1.05"/><path d="M74 624.6H82.4" stroke="#1e1e1e" stroke-width="1.1" stroke-dasharray="3 1.5"/>
<text x="88.2" y="629.0" font-size="12.5" font-weight="bold">healthy+vehicle</text>
<path d="M70.5 637.6H86.5" stroke="#1e1e1e" stroke-width="1.1"/>
<rect x="74" y="633.4" width="8.4" height="8.4" fill="#fff" stroke="#1e1e1e" stroke-width="1.05"/><path d="M74 637.6H82.4" stroke="#1e1e1e" stroke-width="1.1"/>
<text x="88.2" y="642.0" font-size="12.5" font-weight="bold">healthy+SB612111</text>
</svg>
</body></html>
